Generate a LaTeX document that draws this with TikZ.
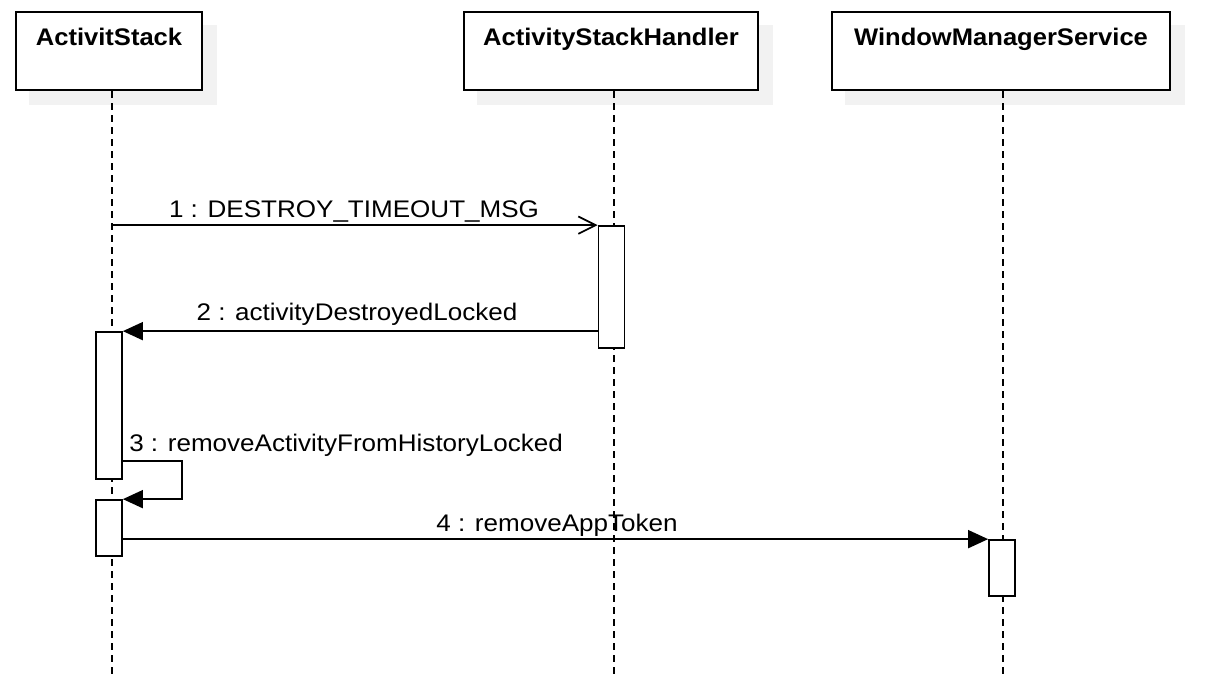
\documentclass[tikz,border=0pt]{standalone}
\usepackage{fontspec}
\setmainfont{Liberation Sans}
\newfontfamily\lblfont[FakeStretch=1.085]{Liberation Sans}
\newfontfamily\hdrfont[FakeStretch=1.065]{Liberation Sans}
\usetikzlibrary{arrows.meta}
\definecolor{shadowc}{RGB}{242,242,242}
\begin{document}
\begin{tikzpicture}[x=0.75pt,y=-0.75pt,
  headbox/.style={draw, line width=1.5pt, fill=white, inner xsep=0pt, inner ysep=0pt,
    text height=24.75pt, text depth=33.75pt, font=\hdrfont\fontsize{18}{22}\selectfont\bfseries},
  lifeline/.style={line width=1.3pt, dash pattern=on 5.5pt off 3.5pt},
  actbox/.style={draw, line width=1.3pt, fill=white, minimum width=19.5pt, inner sep=0pt},
  msgopen/.style={line width=1.3pt, -{Straight Barb[length=13pt,width=13pt,line width=1.3pt]}},
  msgsync/.style={line width=1.3pt, -{Triangle[length=15pt,width=13.5pt]}},
  msglabel/.style={anchor=base, inner sep=0pt, font=\lblfont\fontsize{18}{22}\selectfont}]
\useasboundingbox (0,0) rectangle (1225,675);
% header boxes (positions)
\node[headbox, minimum width=139.5pt] (h1) at (109,51) {ActivitStack};
\node[headbox, minimum width=220.5pt] (h2) at (611,51) {ActivityStackHandler};
\node[headbox, minimum width=253.5pt] (h3) at (1001,51) {WindowManagerService};
% shadows
\fill[shadowc] ([shift={(14,14)}]h1.north west) rectangle ([shift={(14,14)}]h1.south east);
\fill[shadowc] ([shift={(14,14)}]h2.north west) rectangle ([shift={(14,14)}]h2.south east);
\fill[shadowc] ([shift={(14,14)}]h3.north west) rectangle ([shift={(14,14)}]h3.south east);
\node[headbox, minimum width=139.5pt] at (h1) {ActivitStack};
\node[headbox, minimum width=220.5pt] at (h2) {ActivityStackHandler};
\node[headbox, minimum width=253.5pt] at (h3) {WindowManagerService};
% lifelines
\coordinate (l1b) at (112,675);
\coordinate (l2b) at (614,675);
\coordinate (l3b) at (1003,675);
\draw[lifeline] (h1.south -| l1b) -- (l1b);
\draw[lifeline] (h2.south -| l2b) -- (l2b);
\draw[lifeline] (h3.south -| l3b) -- (l3b);
% activations
\node[actbox, minimum height=91.5pt] (a1) at (611.5,287) {};
\node[actbox, minimum height=110.25pt] (a2) at (109,405.5) {};
\node[actbox, minimum height=42pt] (a3) at (109,528) {};
\node[actbox, minimum height=42pt] (a4) at (1002,568) {};
% messages
\draw[msgopen] (a1.north west -| l1b) -- (a1.north west);
\draw[msgsync] (a2.north east -| a1.west) -- (a2.north east);
\coordinate (s3) at (182,461);
\draw[msgsync] (a2.east |- s3) -- (s3) |- (a3.north east);
\draw[msgsync] (a3.east |- a4.north) -- (a4.north west);
% labels
\node[msglabel] (t1) at (354,217) {1 : DESTROY\_TIMEOUT\_MSG};
\node[msglabel] (t2) at (357,320) {2 : activityDestroyedLocked};
\node[msglabel, anchor=base west] (t3) at (129,451) {3 : removeActivityFromHistoryLocked};
\node[msglabel] (t4) at (557,531) {4 : removeAppToken};
\end{tikzpicture}
\end{document}
